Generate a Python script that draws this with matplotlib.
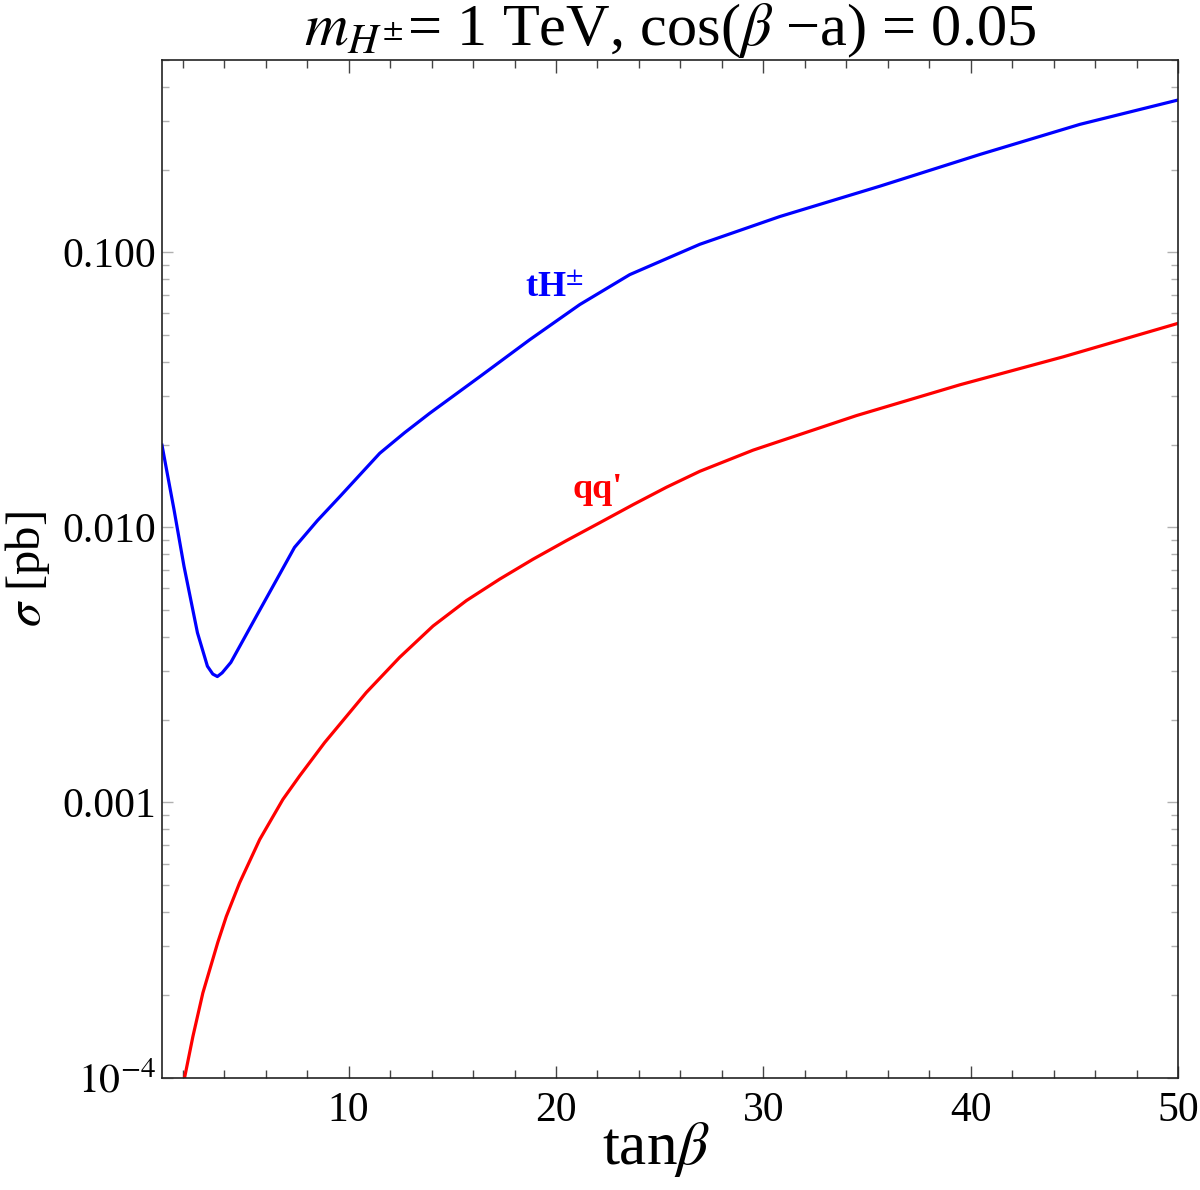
import matplotlib
matplotlib.use("Agg")
import matplotlib.pyplot as plt
from matplotlib.ticker import FixedLocator, FixedFormatter, LogLocator, NullFormatter

plt.rcParams['font.family'] = ['Liberation Serif', 'DejaVu Serif']
plt.rcParams['mathtext.fontset'] = 'stix'

# values
tanb_tH = [1.0, 1.58, 2.06, 2.71, 3.19, 3.45, 3.67, 3.9, 4.32, 5.6, 6.5,
           7.39, 8.5, 9.6, 10.6, 11.5, 12.7, 13.91, 16.32, 18.73, 21.15,
           23.56, 25.97, 26.94, 30.8, 35.62, 40.45, 45.27, 50.0]
sigma_tH = [0.0199, 0.0116, 0.00723, 0.00414, 0.00313, 0.00293, 0.00287,
            0.00296, 0.00323, 0.00483, 0.0064, 0.00846, 0.0106, 0.0130,
            0.0157, 0.0186, 0.0221, 0.0260, 0.0353, 0.0481, 0.0646, 0.083,
            0.0995, 0.107, 0.135, 0.174, 0.227, 0.292, 0.358]

tanb_qq = [2.09, 2.49, 2.97, 3.69, 4.10, 4.74, 5.71, 6.83, 7.64, 8.84,
           10.85, 12.46, 14.07, 15.68, 17.29, 18.89, 20.5, 22.11, 23.72,
           25.33, 26.94, 29.51, 34.49, 39.48, 44.46, 50.0]
sigma_qq = [1.0e-4, 1.41e-4, 2.03e-4, 3.1e-4, 3.85e-4, 5.1e-4, 7.33e-4,
            1.026e-3, 1.25e-3, 1.65e-3, 2.51e-3, 3.37e-3, 4.38e-3, 5.42e-3,
            6.49e-3, 7.66e-3, 8.95e-3, 0.0104, 0.0121, 0.0140, 0.0160,
            0.0191, 0.0255, 0.0330, 0.0417, 0.0552]

x_major = [10, 20, 30, 40, 50]
x_minor = [v for v in range(2, 50, 2) if v % 10]
y_major = [1e-4, 1e-3, 1e-2, 1e-1]
y_labels = ['$10^{-4}$', '0.001', '0.010', '0.100']

fig = plt.figure(figsize=(12, 11.9), dpi=100)
ax = fig.add_axes([0.135, 0.0945, 0.8467, 0.855])

ax.plot(tanb_tH, sigma_tH, color='#0000ff', lw=2.3, solid_joinstyle='round')
ax.plot(tanb_qq, sigma_qq, color='#ff0000', lw=2.3, solid_joinstyle='round')

ax.set_yscale('log')
ax.set_xlim(1, 50)
ax.set_ylim(1e-4, 0.5)

ax.xaxis.set_major_locator(FixedLocator(x_major))
ax.xaxis.set_minor_locator(FixedLocator(x_minor))
ax.yaxis.set_major_locator(FixedLocator(y_major))
ax.yaxis.set_major_formatter(FixedFormatter(y_labels))
ax.yaxis.set_minor_locator(LogLocator(base=10, subs=range(2, 10)))
ax.yaxis.set_minor_formatter(NullFormatter())

ax.tick_params(axis='x', which='both', direction='in', top=True,
               color='#444444', labelsize=30, pad=10)
ax.tick_params(axis='x', which='major', length=9, width=1)
ax.tick_params(axis='x', which='minor', length=6, width=1)
ax.tick_params(axis='y', which='both', direction='in', right=True,
               color='#b0b0b0', labelsize=30, pad=4)
ax.tick_params(axis='y', which='major', length=8, width=1)
ax.tick_params(axis='y', which='minor', length=5, width=1)

for s in ax.spines.values():
    s.set_color('#222222')
    s.set_linewidth(1.2)

ax.text(19.94, 0.0743, r'tH$^{\pm}$', color='#0000ff', fontsize=26,
        fontweight='bold', ha='center', va='center')
ax.text(22.0, 0.0137, "qq'", color='#ff0000', fontsize=26,
        fontweight='bold', ha='center', va='center')

ax.set_xlabel(r'tan$\beta$', fontsize=44)
ax.xaxis.set_label_coords(0.486, -0.042)
ax.set_ylabel(r'$\sigma$ [pb]', fontsize=35)
ax.yaxis.set_label_coords(-0.108, 0.5)
ax.set_title(r'$m_{H^{\pm}}$= 1 TeV, cos($\beta$ −a) = 0.05', fontsize=43.5, pad=6)

fig.savefig('out.png', dpi=100)
